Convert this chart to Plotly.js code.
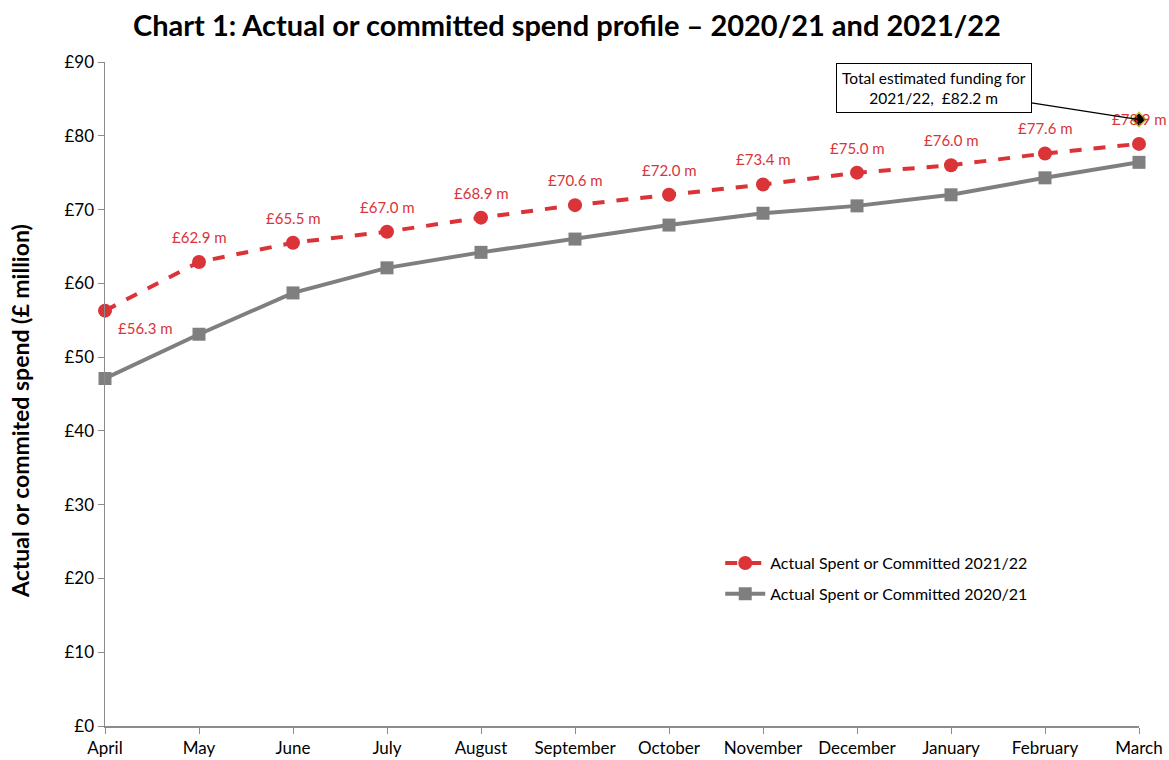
<!DOCTYPE html>
<html><head><meta charset="utf-8">
<script src="https://cdn.plot.ly/plotly-3.0.1.min.js"></script>
<style>body{margin:0;background:#fff}#c{width:1169px;height:760px}</style>
</head><body><div id="c"></div>
<script>
const months = ["April","May","June","July","August","September","October","November","December","January","February","March"];
const spend2122 = [56.3,62.9,65.5,67.0,68.9,70.6,72.0,73.4,75.0,76.0,77.6,78.9];
const spend2021 = [47.1,53.1,58.7,62.1,64.2,66.0,67.9,69.5,70.5,72.0,74.3,76.4];
const fundingMonth = "March";
const fundingValue = 82.2;
const yTickVals = [0,10,20,30,40,50,60,70,80,90];
const yTickText = ["£0","£10","£20","£30","£40","£50","£60","£70","£80","£90"];

const FONT = "Lato, 'Liberation Sans', Arial, sans-serif";
const RED = "#DA3338", GREY = "#7F7F7F";

const traces = [
  {x: months, y: spend2122, name: "Actual Spent or Committed 2021/22", mode: "lines+markers", legendgroup: "a",
   cliponaxis: false,
   line: {color: RED, width: 4, dash: "dash"}, marker: {symbol: "circle", size: 14, color: RED}},
  {x: months, y: spend2021, name: "Actual Spent or Committed 2020/21", mode: "lines+markers", legendgroup: "b",
   cliponaxis: false,
   line: {color: GREY, width: 4}, marker: {symbol: "square", size: 13, color: GREY}},
  {x: [fundingMonth], y: [fundingValue], mode: "markers", showlegend: false, cliponaxis: false,
   marker: {symbol: "diamond", size: 11, color: "#000", line: {color: "#C8C83A", width: 1.5}}}
];

const annotations = spend2122.map((v, i) => ({
  x: months[i], y: v, text: "£" + v.toFixed(1) + " m", showarrow: false,
  font: {family: FONT, size: 15, color: RED},
  xshift: i === 0 ? 40 : 0, yshift: i === 0 ? -17 : 25
}));
annotations.push({
  x: fundingMonth, y: fundingValue, text: "Total estimated funding for<br>2021/22,  £82.2 m",
  showarrow: true, arrowhead: 0, arrowwidth: 1.3, arrowcolor: "#000", ax: -205, ay: -32,
  bordercolor: "#000", borderwidth: 1, borderpad: 5, bgcolor: "#fff",
  font: {family: FONT, size: 15.5, color: "#000"}
});
annotations.push({
  xref: "paper", yref: "paper", x: -85/1034, y: (726-411)/664, xanchor: "center", yanchor: "middle",
  text: "<b>Actual or commited spend (£ million)</b>", textangle: -90, showarrow: false,
  font: {family: FONT, size: 23, color: "#000"}
});

const layout = {
  width: 1169, height: 760,
  margin: {l: 105, r: 30, t: 62, b: 34},
  paper_bgcolor: "#fff", plot_bgcolor: "#fff",
  font: {family: FONT, color: "#000"},
  title: {text: "<b>Chart 1: Actual or committed spend profile – 2020/21 and 2021/22</b>",
    font: {family: FONT, size: 29, color: "#000"}, x: 0.485, xanchor: "center", y: 0.966, yanchor: "middle"},
  xaxis: {type: "category", range: [0, 11], showgrid: false, zeroline: false,
    showline: true, linecolor: "#8C8C8C", linewidth: 1.5, ticks: "outside", ticklen: 6, tickcolor: "#8C8C8C",
    tickfont: {family: FONT, size: 17, color: "#000"}, fixedrange: true},
  yaxis: {range: [0, 90], tickvals: yTickVals, ticktext: yTickText, showgrid: false, zeroline: false,
    showline: true, linecolor: "#8C8C8C", linewidth: 1.5, ticks: "outside", ticklen: 6, tickcolor: "#8C8C8C",
    tickfont: {family: FONT, size: 17, color: "#000"}},
  legend: {x: 0.595, y: 0.271, xanchor: "left", yanchor: "top", bgcolor: "rgba(0,0,0,0)",
    font: {family: FONT, size: 16, color: "#000"}, tracegroupgap: 7, itemwidth: 40},
  annotations: annotations,
  showlegend: true
};

Plotly.newPlot("c", traces, layout, {displayModeBar: false, staticPlot: true});
</script></body></html>
